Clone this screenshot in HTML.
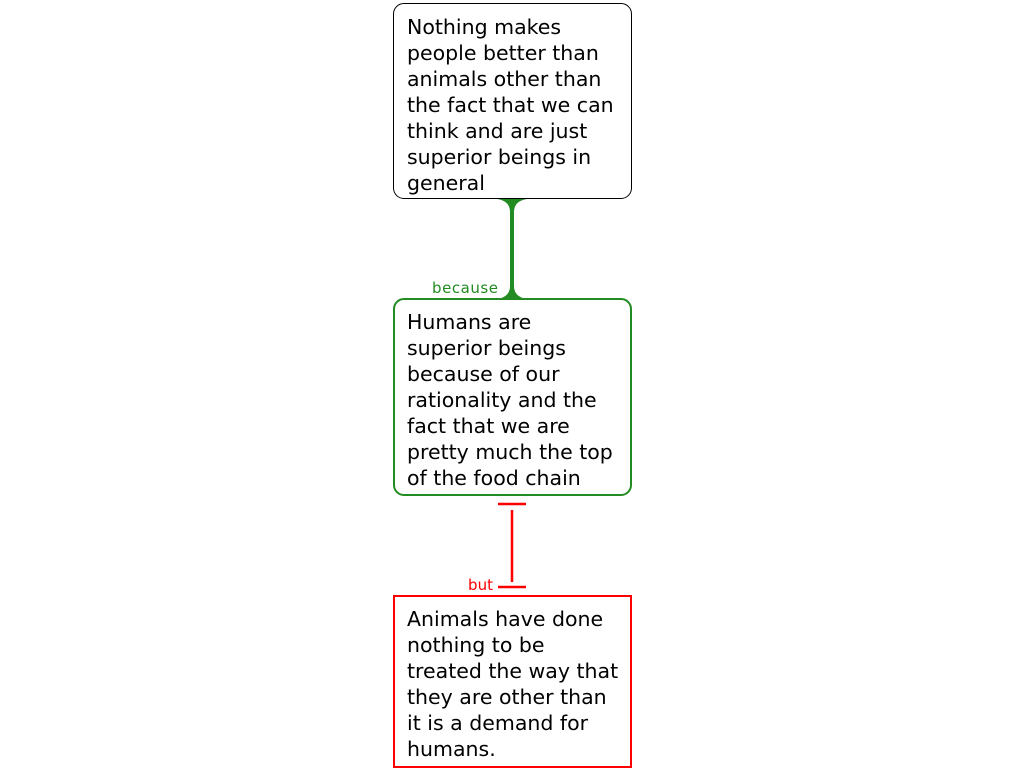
<!DOCTYPE html>
<html><head><style>
body{margin:0;width:1024px;height:768px;background:#fff;position:relative;overflow:hidden;font-family:"DejaVu Sans",sans-serif}
.b{position:absolute;left:393px;width:239px;box-sizing:border-box;padding:9px 0 0 13px;font-size:20.5px;line-height:26px;color:#000;white-space:nowrap}
</style></head><body>
<div class="b" style="top:3px;height:196px;border:1px solid #000;border-radius:11px;padding-top:10px;padding-left:13px">Nothing makes<br>people better than<br>animals other than<br>the fact that we can<br>think and are just<br>superior beings in<br>general</div>
<div class="b" style="top:298px;height:198px;border:2.5px solid #228b22;border-radius:11px;padding-left:12px">Humans are<br>superior beings<br>because of our<br>rationality and the<br>fact that we are<br>pretty much the top<br>of the food chain</div>
<div class="b" style="top:595px;height:173px;border:2.5px solid #f00;padding-left:12px">Animals have done<br>nothing to be<br>treated the way that<br>they are other than<br>it is a demand for<br>humans.</div>
<svg width="1024" height="768" style="position:absolute;left:0;top:0">
<path d="M497 199 Q510 201 510 212 L510 286 Q510 297 497 299 L527 299 Q514 297 514 286 L514 212 Q514 201 527 199 Z" fill="#228b22"/>
<text x="432" y="293" font-size="15" fill="#228b22" font-family="DejaVu Sans" textLength="66">because</text>
<line x1="498" y1="504" x2="526" y2="504" stroke="#f00" stroke-width="2.5"/>
<line x1="512" y1="510" x2="512" y2="582" stroke="#f00" stroke-width="2.5"/>
<line x1="498" y1="587" x2="526" y2="587" stroke="#f00" stroke-width="2.5"/>
<text x="468" y="590" font-size="15" fill="#f00" font-family="DejaVu Sans" textLength="25">but</text>
</svg>
</body></html>
